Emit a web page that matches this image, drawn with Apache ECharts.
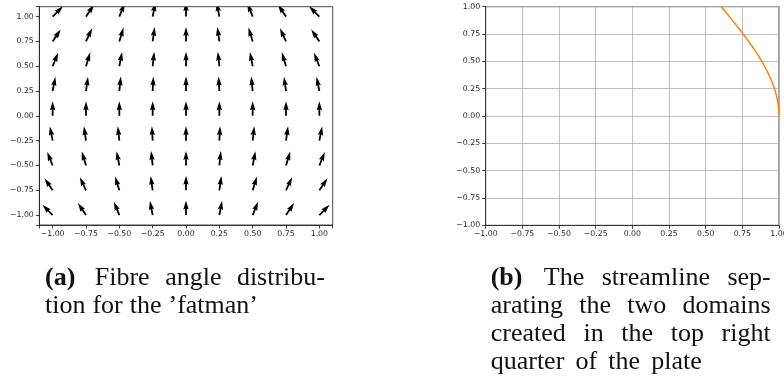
<!DOCTYPE html>
<html><head><meta charset="utf-8">
<script src="https://cdn.jsdelivr.net/npm/echarts@6/dist/echarts.min.js"></script>
<style>html,body{margin:0;padding:0;background:#fff}#c{width:784px;height:382px}</style>
</head><body><div id="c"></div>
<script>
// ---- data: quiver (left panel) ----
const quiverX = [-1, -0.75, -0.5, -0.25, 0, 0.25, 0.5, 0.75, 1];
const quiverY = [1, 0.75, 0.5, 0.25, 0, -0.25, -0.5, -0.75, -1];
// tilt of each arrow away from vertical in degrees (+ = leaning right); rows follow quiverY
const tiltRows = [
  [ 45,  34,  22,  11, 0, -11, -22, -34, -45],
  [ 34,  25,  17,   8, 0,  -8, -17, -25, -34],
  [ 22,  17,  11,   6, 0,  -6, -11, -17, -22],
  [ 11,   8,   6,   3, 0,  -3,  -6,  -8, -11],
  [  0,   0,   0,   0, 0,   0,   0,   0,   0],
  [-11,  -8,  -6,  -3, 0,   3,   6,   8,  11],
  [-22, -17, -11,  -6, 0,   6,  11,  17,  22],
  [-34, -25, -17,  -8, 0,   8,  17,  25,  34],
  [-45, -34, -22, -11, 0,  11,  22,  34,  45]
];
// ---- data: streamline (right panel) ----
const streamY = [1.0, 0.9, 0.8, 0.7, 0.6, 0.5, 0.4, 0.3, 0.2, 0.1, 0.0];
const streamX = [0.607, 0.667, 0.727, 0.783, 0.836, 0.883, 0.923, 0.956, 0.980, 0.995, 1.0];
// ---- tick labels ----
const tickValues = [-1, -0.75, -0.5, -0.25, 0, 0.25, 0.5, 0.75, 1];
const tickLabels = ['\u22121.00', '\u22120.75', '\u22120.50', '\u22120.25', '0.00', '0.25', '0.50', '0.75', '1.00'];
// ---- captions ----
const captionA = [
  [{t: '(a)', b: true}, {t: 'Fibre'}, {t: 'angle'}, {t: 'distribu-'}],
  [{t: 'tion'}, {t: 'for'}, {t: 'the'}, {t: '\u2019fatman\u2019'}]
];
const captionB = [
  [{t: '(b)', b: true}, {t: 'The'}, {t: 'streamline'}, {t: 'sep-'}],
  [{t: 'arating'}, {t: 'the'}, {t: 'two'}, {t: 'domains'}],
  [{t: 'created'}, {t: 'in'}, {t: 'the'}, {t: 'top'}, {t: 'right'}],
  [{t: 'quarter'}, {t: 'of'}, {t: 'the'}, {t: 'plate'}]
];

const chart = echarts.init(document.getElementById('c'), null, {renderer: 'canvas'});

function fmtTick(v) {
  for (let i = 0; i < tickValues.length; i++) {
    if (Math.abs(tickValues[i] - v) < 1e-6) return tickLabels[i];
  }
  return '';
}
const AXC = '#1a1a1a';
function makeAxis(kind, gi, min, max, split, useInterval) {
  const a = {
    type: 'value', gridIndex: gi, min: min, max: max,
    axisLine: {show: true, onZero: false, lineStyle: {color: AXC, width: 0.8}},
    axisTick: {show: true, inside: false, length: 3.5, lineStyle: {color: AXC, width: 0.8}},
    axisLabel: {show: true, formatter: fmtTick, fontSize: 7.8, fontFamily: 'DejaVu Sans', color: '#262626',
      margin: kind === 'x' ? 4.5 : 5.5, hideOverlap: false, showMinLabel: true, showMaxLabel: true},
    splitLine: {show: split, lineStyle: {color: '#b0b0b0', width: 0.8}},
    splitArea: {show: false}
  };
  if (useInterval) a.interval = 0.25; else { a.minInterval = 0.25; a.maxInterval = 0.25; }
  return a;
}

const quiverData = [];
for (let i = 0; i < quiverY.length; i++)
  for (let j = 0; j < quiverX.length; j++)
    quiverData.push([quiverX[j], quiverY[i], tiltRows[i][j]]);

const ARROW_LEN = 14.5, SHAFT = 1.8, HEAD_W = 5.4, HEAD_L = 9, HEAD_AX = 8.1;
function renderArrow(params, api) {
  const p = api.coord([api.value(0), api.value(1)]);
  const a = api.value(2) * Math.PI / 180;
  const dx = Math.sin(a), dy = -Math.cos(a);
  const nx = -dy, ny = dx;
  const L = ARROW_LEN;
  function pt(s, n) { return [p[0] + dx * s + nx * n, p[1] + dy * s + ny * n]; }
  const pts = [
    pt(0, -SHAFT / 2), pt(L - HEAD_AX, -SHAFT / 2), pt(L - HEAD_L, -HEAD_W / 2), pt(L, 0),
    pt(L - HEAD_L, HEAD_W / 2), pt(L - HEAD_AX, SHAFT / 2), pt(0, SHAFT / 2)
  ];
  return {type: 'polygon', shape: {points: pts}, style: {fill: '#000', stroke: null}};
}

// captions
const CAP_FS = 26, CAP_FONT = '"Liberation Serif", "Times New Roman", serif';
const mctx = document.createElement('canvas').getContext('2d');
function measure(w) {
  mctx.font = (w.b ? 'bold ' : '') + CAP_FS + 'px ' + CAP_FONT;
  return mctx.measureText(w.t).width;
}
const graphics = [];
function placeLine(words, x0, x1, baseline, firstExtra) {
  const widths = words.map(measure);
  const total = widths.reduce((s, v) => s + v, 0);
  const gap = (x1 - x0 - total - firstExtra) / (words.length - 1);
  let x = x0;
  words.forEach((w, i) => {
    graphics.push({type: 'text', x: x, y: baseline - 0.3375 * CAP_FS, silent: true,
      style: {text: w.t, fontSize: CAP_FS, fontFamily: CAP_FONT, fontWeight: w.b ? 'bold' : 'normal',
        fill: '#111', align: 'left', verticalAlign: 'middle'}});
    x += widths[i] + gap + (i === 0 ? firstExtra : 0);
  });
}
placeLine(captionA[0], 45, 325, 287, 4);
placeLine(captionA[1], 45, 258, 315, 0);
placeLine(captionB[0], 490.7, 770.7, 287, 4);
placeLine(captionB[1], 490.7, 770.7, 315, 0);
placeLine(captionB[2], 490.7, 770.7, 343, 0);
placeLine(captionB[3], 490.7, 701.7, 371, 0);

chart.setOption({
  animation: false,
  backgroundColor: '#fff',
  grid: [
    {left: 39.3, top: 6.7, width: 293.4, height: 218.3, show: true, borderColor: AXC, borderWidth: 0.8,
     backgroundColor: 'transparent', containLabel: false, outerBoundsMode: 'none'},
    {left: 485.7, top: 6.7, width: 293.3, height: 218.6, show: true, borderColor: AXC, borderWidth: 0.8,
     backgroundColor: 'transparent', containLabel: false, outerBoundsMode: 'none'}
  ],
  xAxis: [makeAxis('x', 0, -1.1, 1.1, false, false), makeAxis('x', 1, -1, 1, true, true)],
  yAxis: [makeAxis('y', 0, -1.1, 1.1, false, false), makeAxis('y', 1, -1, 1, true, true)],
  series: [
    {type: 'custom', xAxisIndex: 0, yAxisIndex: 0, data: quiverData, renderItem: renderArrow, clip: true, silent: true},
    {type: 'line', xAxisIndex: 1, yAxisIndex: 1, data: streamX.map((x, i) => [x, streamY[i]]),
     showSymbol: false, smooth: 0.4, clip: true, silent: true,
     lineStyle: {color: '#ff7f0e', width: 1.5}}
  ],
  graphic: graphics
});
</script></body></html>
